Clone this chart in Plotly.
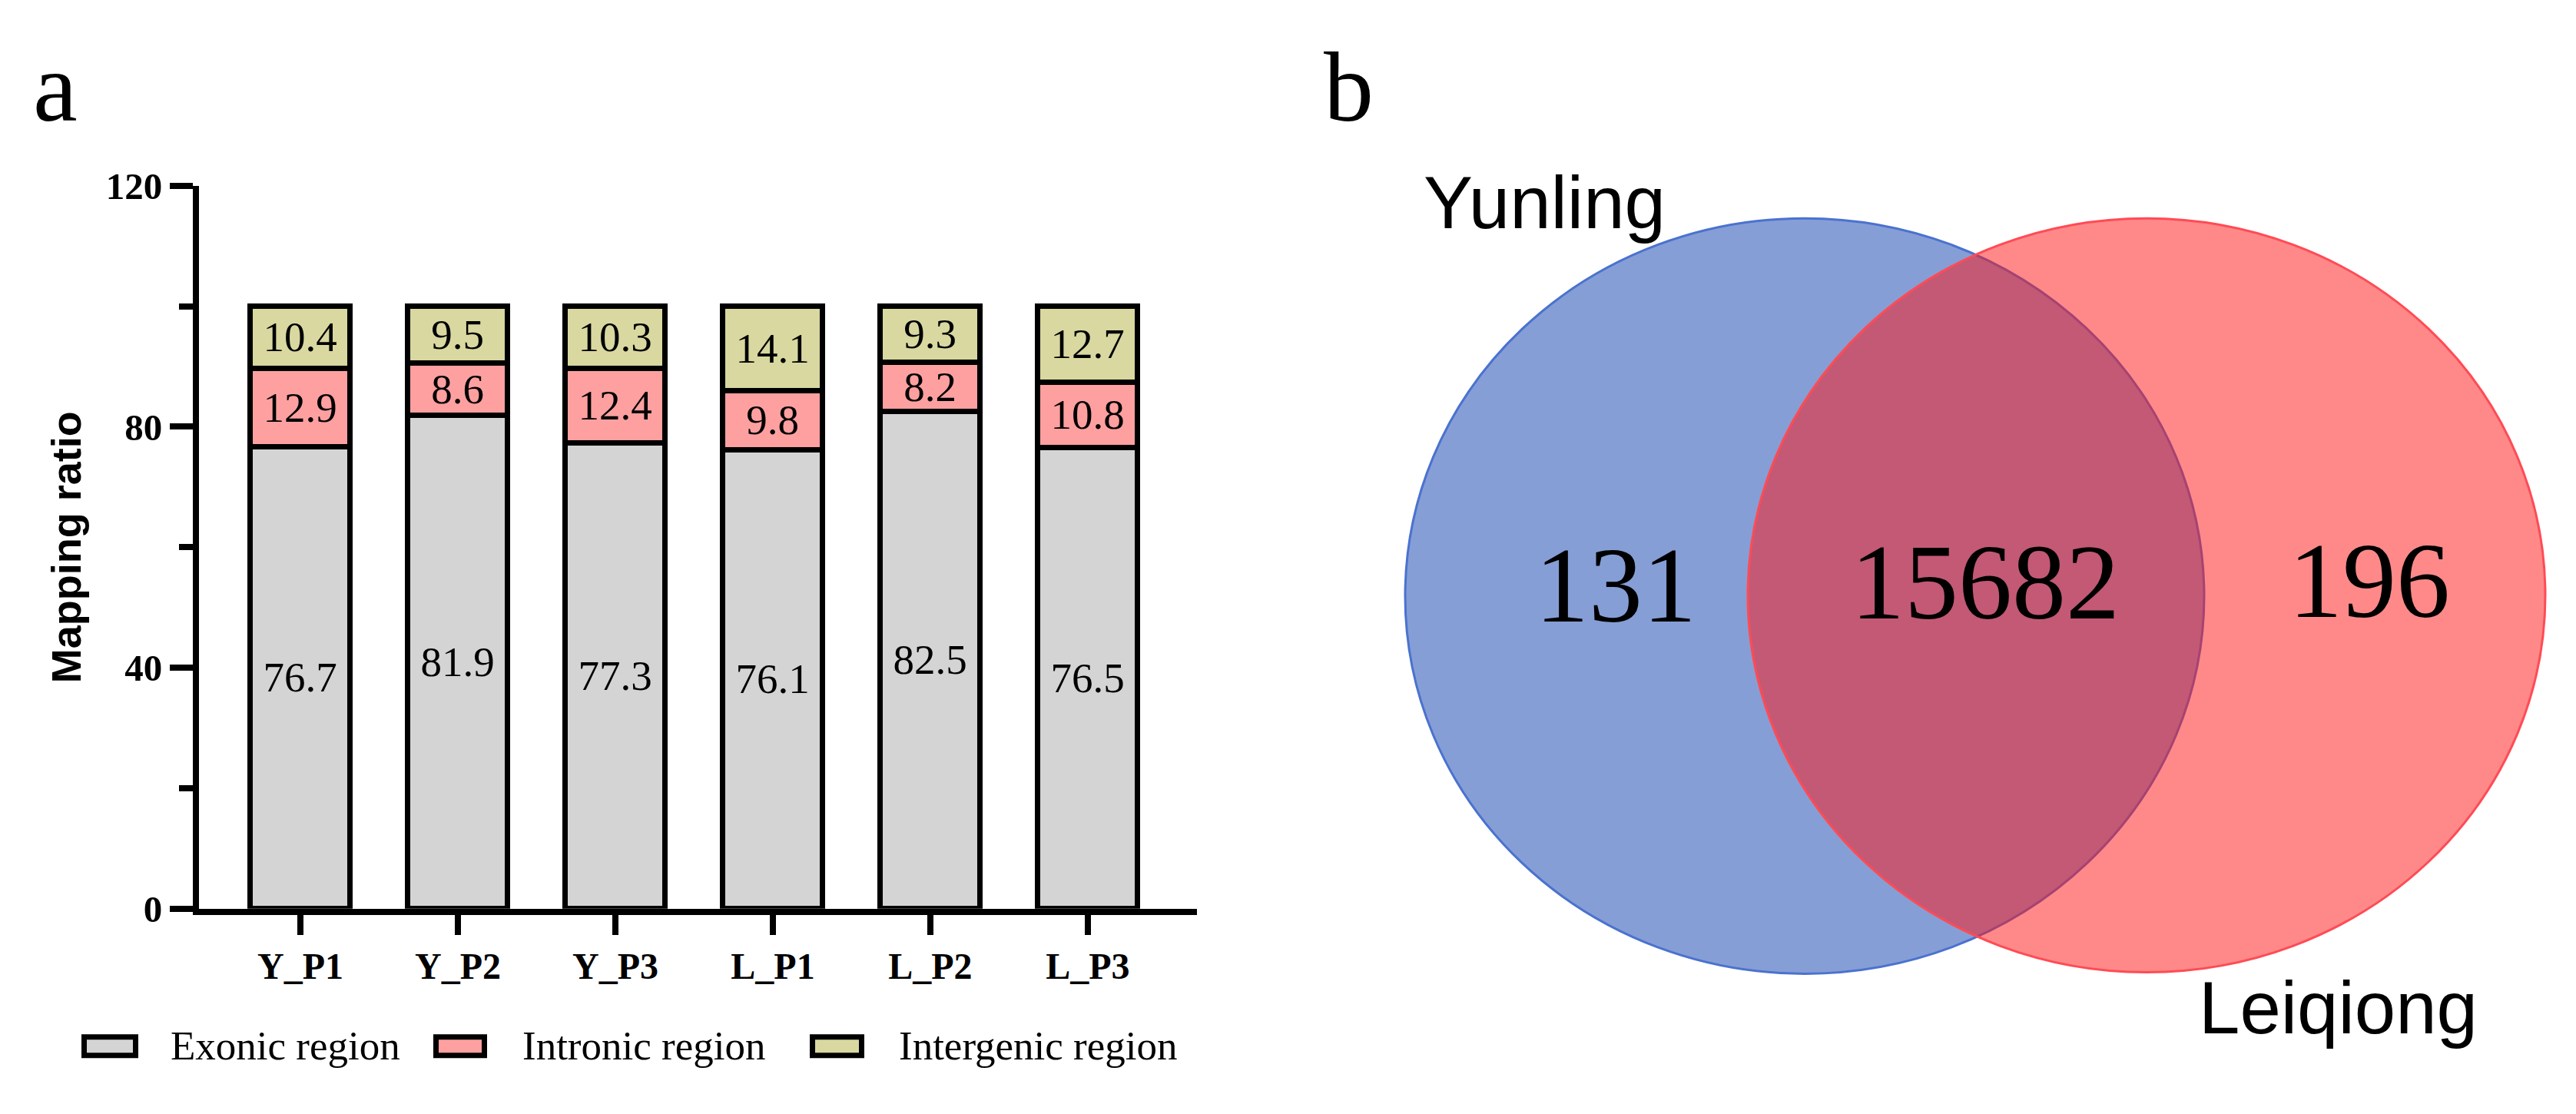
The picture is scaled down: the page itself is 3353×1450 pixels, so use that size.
import plotly.graph_objects as go

# ---------------- data ----------------
samples = ["Y_P1", "Y_P2", "Y_P3", "L_P1", "L_P2", "L_P3"]
exonic = [76.7, 81.9, 77.3, 76.1, 82.5, 76.5]
intronic = [12.9, 8.6, 12.4, 9.8, 8.2, 10.8]
intergenic = [10.4, 9.5, 10.3, 14.1, 9.3, 12.7]
series_names = ["Exonic region", "Intronic region", "Intergenic region"]
y_tick_values = [0, 40, 80, 120]
y_axis_title = "Mapping ratio"

venn_sets = ["Yunling", "Leiqiong"]
venn_counts = [131, 15682, 196]  # Yunling only, shared, Leiqiong only
panel_labels = ["a", "b"]

# ---------------- styles / layout ----------------
W, H = 3353, 1450
series_colors = ["#D4D4D4", "#FFA0A0", "#D8D8A0"]
SERIF = "Liberation Serif, Times New Roman, serif"
SANS = "Liberation Sans, Arial, sans-serif"


def px_x(v):
    return v / W


def px_y(v):
    return 1 - v / H


# plot area of bar chart in pixels
L, R, T, B = 251, 1550, 215, 1193

fig = go.Figure()

for name, vals, col in zip(series_names, [exonic, intronic, intergenic], series_colors):
    fig.add_trace(go.Bar(
        x=samples, y=vals, name=name,
        width=0.634,
        marker=dict(color=col, line=dict(color="black", width=7)),
        texttemplate="%{y:.1f}",
        textposition="inside",
        insidetextanchor="middle",
        constraintext="none",
        textfont=dict(family=SERIF, size=55, color="black"),
        showlegend=False,
        xaxis="x", yaxis="y",
    ))

fig.update_layout(
    width=W, height=H, autosize=False,
    margin=dict(l=0, r=0, t=0, b=0),
    paper_bgcolor="white", plot_bgcolor="rgba(0,0,0,0)",
    barmode="stack",
    bargap=0,
    showlegend=False,
    xaxis=dict(
        domain=[px_x(L), px_x(R)],
        type="category",
        range=[-0.644, 5.693],
        showline=True, linecolor="black", linewidth=8,
        ticks="outside", ticklen=26, tickwidth=8, tickcolor="black",
        tickfont=dict(family=SERIF, size=48, color="black", weight="bold"),
        showgrid=False, zeroline=False, fixedrange=True,
        anchor="y",
    ),
    yaxis=dict(
        domain=[px_y(B), px_y(T)],
        range=[0, 120],
        tickvals=y_tick_values,
        showline=True, linecolor="black", linewidth=8,
        ticks="outside", ticklen=30, tickwidth=8, tickcolor="black",
        minor=dict(dtick=20, ticks="outside", ticklen=18, tickwidth=8, tickcolor="black"),
        tickfont=dict(family=SERIF, size=49, color="black", weight="bold"),
        title=dict(text=y_axis_title, standoff=18,
                   font=dict(family=SANS, size=54, color="black", weight="bold")),
        showgrid=False, zeroline=False, fixedrange=True,
        anchor="x",
    ),
    xaxis2=dict(domain=[0.5, 1], range=[W * 0.5, W], visible=False,
                fixedrange=True, anchor="y2"),
    yaxis2=dict(domain=[0, 1], range=[H, 0], visible=False,
                fixedrange=True, anchor="x2"),
)

# ---------------- custom legend (boxes + labels) ----------------
legend_boxes = [(101.5, 168.5), (559.5, 622.5), (1049.5, 1113.5)]
legend_text_x = [212, 670, 1160]
ly0, ly1, lyc = 1366.5, 1391.5, 1378
for (bx0, bx1), tx, name, col in zip(legend_boxes, legend_text_x, series_names, series_colors):
    fig.add_shape(type="rect", xref="paper", yref="paper",
                  x0=px_x(bx0), x1=px_x(bx1), y0=px_y(ly1), y1=px_y(ly0),
                  fillcolor=col, line=dict(color="black", width=7))
    fig.add_annotation(xref="paper", yref="paper", x=px_x(tx), y=px_y(lyc),
                       text=name, showarrow=False, xanchor="left", yanchor="middle",
                       font=dict(family=SERIF, size=53, color="black"))

# ---------------- Venn diagram ----------------
venn_geom = [  # (cx, cy, rx, ry) in pixels
    (2341, 770, 520, 511),
    (2786, 769, 519, 510),
]
venn_fill = ["rgba(13,61,173,0.5)", "rgba(255,20,20,0.5)"]
venn_line = ["#4A72CF", "#FF4B55"]
for (cx, cy, rx, ry), fc, lc in zip(venn_geom, venn_fill, venn_line):
    fig.add_shape(type="circle", xref="x2", yref="y2",
                  x0=cx - rx, x1=cx + rx, y0=cy - ry, y1=cy + ry,
                  fillcolor=fc, line=dict(color=lc, width=3))

count_pos = [(2095, 755), (2576, 751), (3076, 749)]
for (x, y), c in zip(count_pos, venn_counts):
    fig.add_annotation(xref="x2", yref="y2", x=x, y=y, text=str(c), showarrow=False,
                       xanchor="center", yanchor="middle",
                       font=dict(family=SERIF, size=140, color="black"))

set_label_pos = [(2002, 237), (3035, 1327)]
for (x, y), s in zip(set_label_pos, venn_sets):
    fig.add_annotation(xref="x2", yref="y2", x=x, y=y, text=s, showarrow=False,
                       xanchor="center", yanchor="middle",
                       font=dict(family=SANS, size=96, color="black"))

# ---------------- panel labels ----------------
for (x, y), s in zip([(64, 81), (1747, 81)], panel_labels):
    fig.add_annotation(xref="paper", yref="paper", x=px_x(x), y=px_y(y), text=s,
                       showarrow=False, xanchor="center", yanchor="middle",
                       font=dict(family=SERIF, size=130, color="black"))

fig.write_html("out.html")
